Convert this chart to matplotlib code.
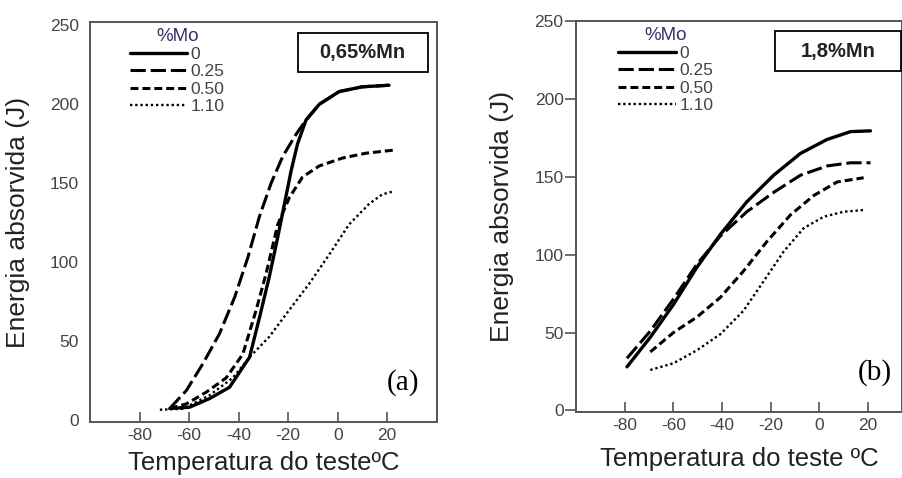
import matplotlib
matplotlib.use('Agg')
import matplotlib.pyplot as plt
from matplotlib.patches import Rectangle

plt.rcParams['font.family'] = ['Liberation Sans', 'DejaVu Sans']
plt.rcParams['axes.unicode_minus'] = False

# (a) 0,65% Mn
a_t0 = [-67.8, -59.8, -51.7, -43.7, -35.6, -31.6, -27.6, -24.2, -21.5, -18.8,
        -16.2, -12.8, -7.4, 0.6, 9.9, 20.7]
a_e0 = [7.6, 8.4, 13.9, 21, 40, 65, 91, 116, 137, 158,
        175, 190, 200, 208, 211, 212]
a_t25 = [-67.8, -61.1, -54.4, -47.7, -41.6, -36.3, -31.6, -26.9, -22.2, -16.8,
         -12.8, -7.4, 0.6, 9.9, 20.7]
a_e25 = [7.6, 19, 36, 55, 78, 103, 129, 150, 167, 181,
         190, 200, 208, 211, 212]
a_t50 = [-67.8, -61.1, -53, -45, -38.3, -32.9, -28.9, -24.2, -19.5, -14.2,
         -7.4, 2, 11.3, 22.7]
a_e50 = [7.6, 10.5, 18, 27, 42, 70, 93, 124, 141, 154,
         161, 166, 169, 171]
a_t110 = [-71.8, -62.5, -51.7, -42.3, -35.6, -27.6, -19.5, -11.5, -3.4, 4.6,
          12.7, 18, 22.7]
a_e110 = [6.8, 7.4, 16, 27, 40, 53, 70, 86.5, 105, 124,
          137, 143, 145]

# (b) 1,8% Mn
b_t0 = [-79.1, -69.5, -60, -50.3, -40.7, -29.8, -18.8, -7.8, 3.2, 12.8, 21]
b_e0 = [28, 47, 68, 92, 113, 134, 151, 165, 174, 179, 179.5]
b_t25 = [-79.1, -69.5, -60, -50.3, -40.7, -29.8, -18.8, -7.8, 3.2, 12.8, 21]
b_e25 = [33.5, 51, 71.5, 94, 112, 127.6, 140, 151, 157, 159, 159]
b_t50 = [-69.5, -60, -50.3, -40.7, -31.2, -21.5, -11.9, -2.3, 7.3, 18.2]
b_e50 = [37.6, 50, 60, 72.6, 89.5, 108.6, 125.5, 138, 146.7, 149.4]
b_t110 = [-69.5, -60, -50.3, -40.7, -31.2, -22.9, -14.7, -6.5, 1.8, 10, 18.2]
b_e110 = [26, 30.3, 38.7, 49, 64, 83, 102, 117, 124.4, 127.6, 128.7]

mo_labels = ['0', '0.25', '0.50', '1.10']
xticks = [-80, -60, -40, -20, 0, 20]
yticks = [0, 50, 100, 150, 200, 250]

styles = [
    dict(linestyle='-', lw=2.4),
    dict(linestyle=(0, (5, 1.6)), lw=2.2),
    dict(linestyle=(0, (2.6, 1.3)), lw=2.2),
    dict(linestyle=(0, (1, 1.2)), lw=1.7),
]

fig = plt.figure(figsize=(9.03, 4.78), dpi=100)

ax1 = fig.add_axes([0.0997, 0.117, 0.384, 0.837])
ax2 = fig.add_axes([0.638, 0.138, 0.361, 0.818])

panels = [
    (ax1, [(a_t0, a_e0), (a_t25, a_e25), (a_t50, a_e50), (a_t110, a_e110)],
     '0,65%Mn', '(a)', 'Temperatura do testeºC', (-100, 40), (-1, 252),
     (0.599, 0.875, 0.375, 0.0975), (0.115, 0.985), (0.95, 0.1)),
    (ax2, [(b_t0, b_e0), (b_t25, b_e25), (b_t50, b_e50), (b_t110, b_e110)],
     '1,8%Mn', '(b)', 'Temperatura do teste ºC', (-100, 34), (-1, 250),
     (0.610, 0.872, 0.387, 0.102), (0.13, 0.985), (0.97, 0.10)),
]

for ax, series, mn, tag, xlab, xl, yl, box, lpos, tpos in panels:
    for (t, e), st, lab in zip(series, styles, mo_labels):
        ax.plot(t, e, color='black', label=lab, solid_capstyle='round',
                dash_capstyle='butt', **st)
    ax.set_xlim(*xl)
    ax.set_ylim(*yl)
    ax.set_xticks(xticks)
    ax.set_yticks(yticks)
    ax.tick_params(axis='x', direction='in', length=7, width=1.2,
                   labelsize=12.5, labelcolor='#444444', color='#555555',
                   pad=4)
    ax.tick_params(axis='y', labelsize=12.5, labelcolor='#444444',
                   color='#555555', width=1.2)
    for s in ax.spines.values():
        s.set_color('#555555')
        s.set_linewidth(1.4)
    ax.set_ylabel('Energia absorvida (J)', fontsize=19, color='#222222')
    ax.set_xlabel(xlab, fontsize=18.5, color='#222222')
    leg = ax.legend(title='%Mo', loc='upper left', bbox_to_anchor=lpos,
                    frameon=False, handlelength=3.3, handletextpad=0.2,
                    labelspacing=0.12, fontsize=12.5, title_fontsize=13.5,
                    borderpad=0, borderaxespad=0)
    for tx in leg.get_texts():
        tx.set_color('#444444')
    leg.get_title().set_color('#333366')
    ax.add_patch(Rectangle((box[0], box[1]), box[2], box[3],
                           transform=ax.transAxes, fc='white', ec='black',
                           lw=1.3, zorder=3, clip_on=False))
    ax.text(box[0] + box[2] / 2, box[1] + box[3] / 2, mn,
            transform=ax.transAxes, ha='center', va='center', zorder=4,
            fontsize=14.5, fontweight='bold', color='#222222')
    ax.text(tpos[0], tpos[1], tag, transform=ax.transAxes, ha='right',
            va='center', fontsize=21, family='Liberation Serif',
            color='black')

ax1.tick_params(axis='y', length=0, pad=8)
ax2.tick_params(axis='y', direction='out', length=8, pad=1)
ax1.yaxis.set_label_coords(-0.173, 0.5)
ax2.yaxis.set_label_coords(-0.19, 0.5)
ax1.xaxis.set_label_coords(0.5, -0.072)
ax2.xaxis.set_label_coords(0.5, -0.09)

plt.savefig('out.png', dpi=100)
